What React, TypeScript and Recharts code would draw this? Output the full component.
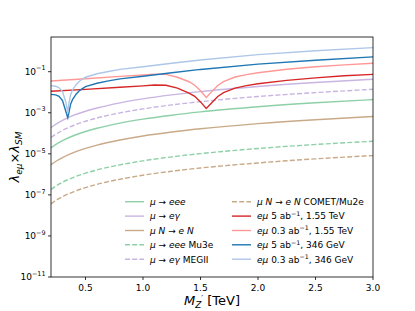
import React from 'react';
import { LineChart, Line, XAxis, YAxis } from 'recharts';

// ---- data ----
const MASS = [0.2, 0.25, 0.3, 0.4, 0.5, 0.6, 0.8, 1.0, 1.25, 1.5, 2.0, 2.5, 3.0];
const MU_EEE = [1.95e-5, 3.05e-5, 4.39e-5, 7.8e-5, 1.22e-4, 1.75e-4, 3.12e-4, 4.88e-4, 7.6e-4, 1.1e-3, 1.95e-3, 3.05e-3, 4.39e-3];
const MU_EGAMMA = [1.9e-4, 2.98e-4, 4.29e-4, 7.6e-4, 1.19e-3, 1.71e-3, 3.05e-3, 4.76e-3, 7.4e-3, 1.07e-2, 1.9e-2, 2.98e-2, 4.29e-2];
const MU_N_EN = [2.95e-6, 4.6e-6, 6.6e-6, 1.18e-5, 1.84e-5, 2.66e-5, 4.7e-5, 7.4e-5, 1.15e-4, 1.66e-4, 2.95e-4, 4.6e-4, 6.6e-4];
const MU3E = [1.82e-7, 2.84e-7, 4.1e-7, 7.3e-7, 1.14e-6, 1.64e-6, 2.91e-6, 4.55e-6, 7.1e-6, 1.02e-5, 1.82e-5, 2.84e-5, 4.1e-5];
const MEGII = [6.2e-5, 9.6e-5, 1.39e-4, 2.47e-4, 3.86e-4, 5.55e-4, 9.9e-4, 1.54e-3, 2.41e-3, 3.47e-3, 6.2e-3, 9.6e-3, 1.39e-2];
const COMET = [3.6e-8, 5.7e-8, 8.2e-8, 1.45e-7, 2.27e-7, 3.27e-7, 5.8e-7, 9.1e-7, 1.42e-6, 2.04e-6, 3.6e-6, 5.7e-6, 8.2e-6];

const MASS_346 = [0.2, 0.24, 0.27, 0.3, 0.314, 0.33, 0.346, 0.355, 0.37, 0.387, 0.42, 0.45, 0.5, 0.6, 0.7, 0.8, 1.0, 1.25, 1.5, 2.0, 2.5, 3.0];
const EMU_03_346 = [2.09e-2, 1.95e-2, 1.66e-2, 1.07e-2, 6.0e-3, 3.16e-3, 1.0e-3, 2.69e-3, 7.4e-3, 1.29e-2, 2.4e-2, 3.55e-2, 5.37e-2, 7.9e-2, 1.02e-1, 1.29e-1, 1.74e-1, 2.57e-1, 3.72e-1, 6.76e-1, 1.05, 1.48];
const EMU_5_346 = [7.9e-3, 7.4e-3, 6.3e-3, 3.9e-3, 2.19e-3, 1.12e-3, 5.75e-4, 9.5e-4, 2.57e-3, 4.37e-3, 8.3e-3, 1.23e-2, 1.86e-2, 2.75e-2, 3.55e-2, 4.47e-2, 6.0e-2, 8.9e-2, 1.29e-1, 2.34e-1, 3.63e-1, 5.25e-1];

const MASS_155 = [0.2, 0.5, 0.8, 1.0, 1.1, 1.2, 1.3, 1.4, 1.45, 1.5, 1.55, 1.6, 1.65, 1.7, 1.8, 1.9, 2.0, 2.25, 2.5, 2.75, 3.0];
const EMU_03_155 = [3.55e-2, 4.57e-2, 5.89e-2, 6.92e-2, 7.59e-2, 7.41e-2, 5.37e-2, 3.24e-2, 2.19e-2, 1.17e-2, 5.62e-3, 1.1e-2, 2.14e-2, 3.31e-2, 5.5e-2, 7.24e-2, 8.91e-2, 1.32e-1, 1.74e-1, 2.14e-1, 2.57e-1];
const EMU_5_155 = [1.12e-2, 1.38e-2, 1.74e-2, 2.04e-2, 2.24e-2, 2.19e-2, 1.58e-2, 9.1e-3, 6.3e-3, 3.39e-3, 1.62e-3, 3.16e-3, 6.17e-3, 9.5e-3, 1.58e-2, 2.09e-2, 2.57e-2, 3.8e-2, 5.0e-2, 6.31e-2, 7.41e-2];

const X_TICKS = [0.5, 1.0, 1.5, 2.0, 2.5, 3.0];
const Y_TICKS = [1e-11, 1e-9, 1e-7, 1e-5, 1e-3, 1e-1];

const zip = (xs: number[], ys: number[]) => xs.map((m, i) => ({ m, v: ys[i] }));

const GREEN = '#8dd0a7';
const PURPLE = '#c9b5e1';
const TAN = '#c9aa88';
const RED = '#d62728';
const LRED = '#ff9896';
const BLUE = '#1f77b4';
const LBLUE = '#aec7e8';
const DASH = '5 2.2';

type Seg = { t: string; i?: boolean; sup?: boolean };

const SERIES: { key: string; xs: number[]; ys: number[]; color: string; dash?: string; label: Seg[] }[] = [
  { key: 'eee', xs: MASS, ys: MU_EEE, color: GREEN, label: [{ t: 'μ', i: true }, { t: ' → ' }, { t: 'eee', i: true }] },
  { key: 'eg', xs: MASS, ys: MU_EGAMMA, color: PURPLE, label: [{ t: 'μ', i: true }, { t: ' → ' }, { t: 'eγ', i: true }] },
  { key: 'mun', xs: MASS, ys: MU_N_EN, color: TAN, label: [{ t: 'μ N', i: true }, { t: ' → ' }, { t: 'e N', i: true }] },
  { key: 'mu3e', xs: MASS, ys: MU3E, color: GREEN, dash: DASH, label: [{ t: 'μ', i: true }, { t: ' → ' }, { t: 'eee', i: true }, { t: ' Mu3e' }] },
  { key: 'megii', xs: MASS, ys: MEGII, color: PURPLE, dash: DASH, label: [{ t: 'μ', i: true }, { t: ' → ' }, { t: 'eγ', i: true }, { t: ' MEGII' }] },
  { key: 'comet', xs: MASS, ys: COMET, color: TAN, dash: DASH, label: [{ t: 'μ N', i: true }, { t: ' → ' }, { t: 'e N', i: true }, { t: ' COMET/Mu2e' }] },
  { key: 'r5', xs: MASS_155, ys: EMU_5_155, color: RED, label: [{ t: 'eμ', i: true }, { t: ' 5 ab' }, { t: '−1', sup: true }, { t: ', 1.55 TeV' }] },
  { key: 'r03', xs: MASS_155, ys: EMU_03_155, color: LRED, label: [{ t: 'eμ', i: true }, { t: ' 0.3 ab' }, { t: '−1', sup: true }, { t: ', 1.55 TeV' }] },
  { key: 'b5', xs: MASS_346, ys: EMU_5_346, color: BLUE, label: [{ t: 'eμ', i: true }, { t: ' 5 ab' }, { t: '−1', sup: true }, { t: ', 346 GeV' }] },
  { key: 'b03', xs: MASS_346, ys: EMU_03_346, color: LBLUE, label: [{ t: 'eμ', i: true }, { t: ' 0.3 ab' }, { t: '−1', sup: true }, { t: ', 346 GeV' }] },
];

const FONT = 'DejaVu Sans';

const XTick = (props: any) => {
  const { x, payload } = props;
  return (
    <text x={x} y={291} textAnchor="middle" fontSize={9} fontFamily={FONT} fill="#000">
      {Number(payload.value).toFixed(1)}
    </text>
  );
};

const YTick = (props: any) => {
  const { y, payload } = props;
  const e = Math.round(Math.log10(payload.value));
  return (
    <text x={45.5} y={y + 3.3} textAnchor="end" fontSize={9} fontFamily={FONT} fill="#000">
      <tspan>10</tspan>
      <tspan dy={-4.6} fontSize={6.4}>{'−' + Math.abs(e)}</tspan>
    </text>
  );
};

const renderSegs = (segs: Seg[]) => {
  const out: any[] = [];
  let shifted = false;
  segs.forEach((s, k) => {
    if (s.sup) {
      out.push(<tspan key={k} dy={-3.5} fontSize={6.3}>{s.t}</tspan>);
      shifted = true;
    } else {
      out.push(
        <tspan key={k} dy={shifted ? 3.5 : undefined} fontStyle={s.i ? 'italic' : 'normal'}>
          {s.t}
        </tspan>
      );
      shifted = false;
    }
  });
  return out;
};

const ROW_Y = [201.7, 216.1, 230.5, 244.8, 259.2];

export default function App() {
  return (
    <div style={{ position: 'absolute', left: 0, top: 0, width: 415, height: 311, background: '#fff' }}>
      <LineChart width={415} height={311} margin={{ top: 37, right: 42, left: 0, bottom: 0 }}>
        <XAxis
          type="number"
          dataKey="m"
          domain={[0.2, 3.0]}
          ticks={X_TICKS}
          allowDataOverflow
          height={34}
          interval={0}
          tick={<XTick />}
          tickSize={3}
          axisLine={false}
          tickLine={{ stroke: '#000', strokeWidth: 0.8 }}
        />
        <YAxis
          type="number"
          scale="log"
          domain={[1e-11, 4.9]}
          ticks={Y_TICKS}
          allowDataOverflow
          width={51}
          interval={0}
          tick={<YTick />}
          tickSize={3}
          axisLine={false}
          tickLine={{ stroke: '#000', strokeWidth: 0.8 }}
        />
        {SERIES.map((s) => (
          <Line
            key={s.key}
            data={zip(s.xs, s.ys)}
            dataKey="v"
            type={s.xs === MASS ? 'monotone' : 'linear'}
            stroke={s.color}
            strokeWidth={1.4}
            strokeDasharray={s.dash}
            dot={false}
            activeDot={false}
            isAnimationActive={false}
          />
        ))}
      </LineChart>
      <svg
        width={415}
        height={311}
        style={{ position: 'absolute', left: 0, top: 0, pointerEvents: 'none' }}
      >
        <rect x={51} y={37} width={322} height={240} fill="none" stroke="#000" strokeWidth={0.8} />
        {SERIES.map((s, idx) => {
          const col = idx < 5 ? 0 : 1;
          const row = idx % 5;
          const lx = col === 0 ? 125 : 232;
          const tx = col === 0 ? 150 : 257;
          const y = ROW_Y[row];
          return (
            <g key={s.key}>
              <line x1={lx} x2={lx + 19} y1={y} y2={y} stroke={s.color} strokeWidth={1.4} strokeDasharray={s.dash} />
              <text x={tx} y={y + 3.3} fontSize={9} fontFamily={FONT} fill="#000">
                {renderSegs(s.label)}
              </text>
            </g>
          );
        })}
        <text x={212} y={304.5} textAnchor="middle" fontSize={13} fontFamily={FONT} fill="#000">
          <tspan fontStyle="italic">M</tspan>
          <tspan dy={3} fontSize={9} fontStyle="italic">Z</tspan>
          <tspan dy={-6} fontSize={8}>′</tspan>
          <tspan dy={3}> [TeV]</tspan>
        </text>
        <text
          x={18.5}
          y={157}
          transform="rotate(-90, 18.5, 157)"
          textAnchor="middle"
          fontSize={13}
          fontFamily={FONT}
          fill="#000"
        >
          <tspan fontStyle="italic">λ</tspan>
          <tspan dy={3} fontSize={9} fontStyle="italic">eμ</tspan>
          <tspan dy={-3}>×</tspan>
          <tspan fontStyle="italic">λ</tspan>
          <tspan dy={3} fontSize={9} fontStyle="italic">SM</tspan>
        </text>
      </svg>
    </div>
  );
}
